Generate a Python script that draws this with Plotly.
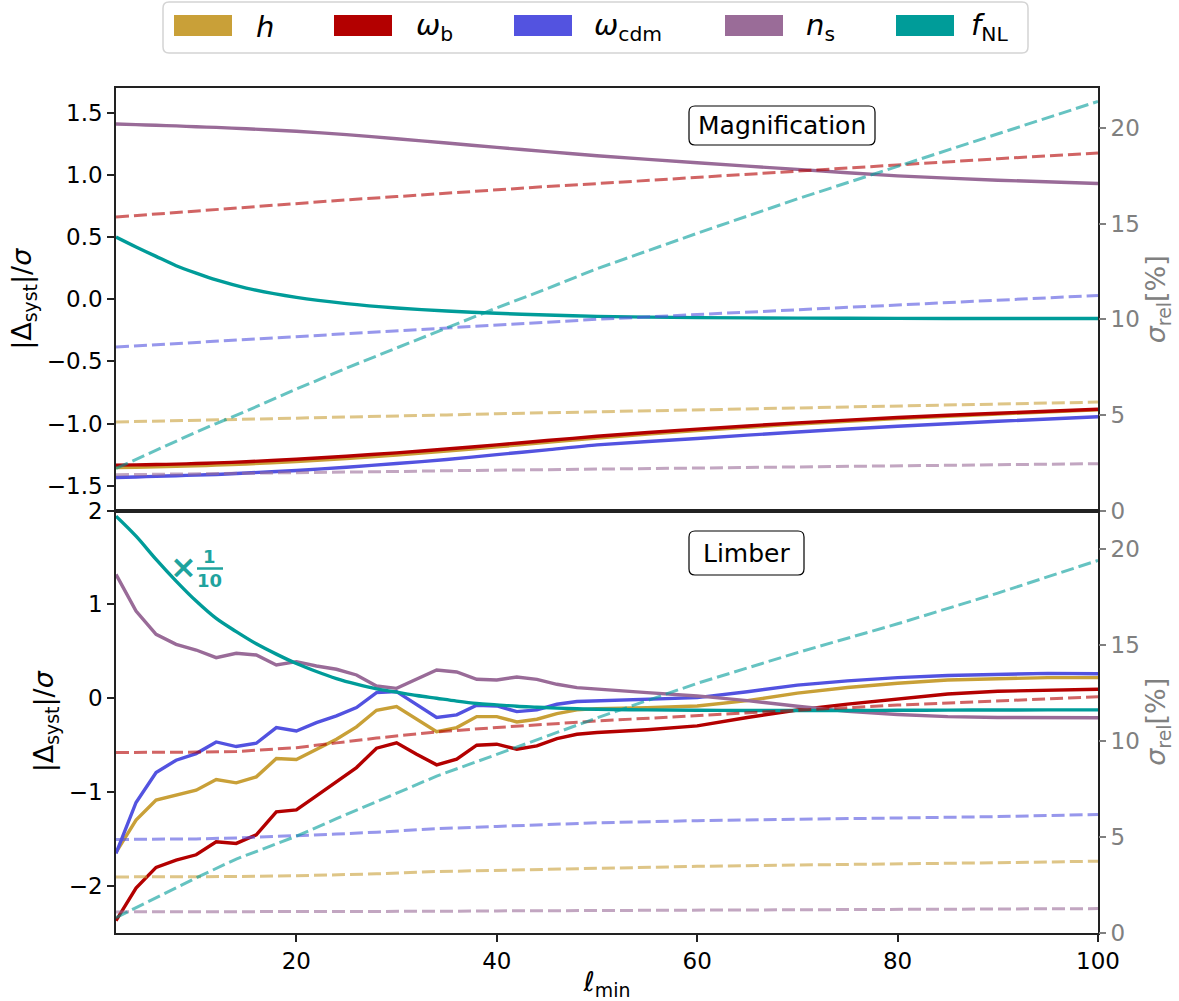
import plotly.graph_objects as go
from plotly.subplots import make_subplots

# ---------------- data ----------------
params = ["h", "omega_b", "omega_cdm", "n_s", "f_NL"]
legend_labels = ["<i>h</i>", "<i>ω</i><sub>b</sub>", "<i>ω</i><sub>cdm</sub>",
                 "<i>n</i><sub>s</sub>", "<i>f</i><sub>NL</sub>"]
colors = ["#C9A038", "#B30000", "#5353E0", "#9A6C98", "#009C99"]

# Top panel (Magnification)
ell_top = [2, 4, 6, 8, 10, 12, 15, 20, 25, 30, 35, 40, 45, 50, 60, 70, 80, 90, 100]
mag_syst_h = [-1.355, -1.352, -1.349, -1.345, -1.340, -1.335, -1.326, -1.306, -1.281, -1.253,
              -1.222, -1.188, -1.152, -1.117, -1.057, -1.005, -0.960, -0.923, -0.890]
mag_syst_wb = [-1.335, -1.333, -1.330, -1.327, -1.322, -1.317, -1.308, -1.288, -1.263, -1.236,
               -1.205, -1.172, -1.137, -1.103, -1.045, -0.995, -0.952, -0.917, -0.885]
mag_syst_wcdm = [-1.435, -1.430, -1.425, -1.420, -1.415, -1.410, -1.398, -1.378, -1.352, -1.322,
                 -1.290, -1.250, -1.212, -1.172, -1.120, -1.068, -1.022, -0.982, -0.945]
mag_syst_ns = [1.410, 1.405, 1.400, 1.395, 1.388, 1.383, 1.372, 1.352, 1.325, 1.292,
               1.257, 1.222, 1.188, 1.155, 1.098, 1.045, 0.993, 0.958, 0.932]
mag_syst_fnl = [0.500, 0.420, 0.345, 0.270, 0.210, 0.155, 0.090, 0.015, -0.035, -0.070,
                -0.095, -0.113, -0.127, -0.138, -0.148, -0.152, -0.154, -0.155, -0.155]

mag_rel_h = [4.63, 4.65, 4.68, 4.70, 4.72, 4.74, 4.78, 4.83, 4.89, 4.95,
             5.00, 5.06, 5.11, 5.17, 5.27, 5.37, 5.47, 5.57, 5.67]
mag_rel_wb = [15.35, 15.43, 15.51, 15.60, 15.68, 15.75, 15.87, 16.05, 16.25, 16.42,
              16.60, 16.77, 16.95, 17.10, 17.43, 17.75, 18.08, 18.40, 18.70]
mag_rel_wcdm = [8.55, 8.61, 8.67, 8.73, 8.79, 8.85, 8.94, 9.09, 9.24, 9.39,
                9.54, 9.69, 9.84, 10.00, 10.25, 10.50, 10.75, 11.00, 11.25]
mag_rel_ns = [1.87, 1.88, 1.90, 1.91, 1.92, 1.93, 1.95, 1.98, 2.01, 2.04,
              2.08, 2.11, 2.14, 2.17, 2.23, 2.28, 2.34, 2.39, 2.45]
mag_rel_fnl = [2.20, 2.68, 3.15, 3.62, 4.10, 4.55, 5.20, 6.35, 7.45, 8.50,
               9.55, 10.60, 11.60, 12.65, 14.50, 16.30, 18.00, 19.70, 21.40]

# Bottom panel (Limber)
ell_bot = [2, 4, 6, 8, 10, 12, 14, 16, 18, 20, 22, 24, 26, 28, 30, 32, 34, 36, 38, 40,
           42, 44, 46, 48, 50, 55, 60, 65, 70, 75, 80, 85, 90, 95, 100]
lim_syst_h = [-1.642, -1.298, -1.085, -1.028, -0.979, -0.865, -0.901, -0.837, -0.642, -0.652,
              -0.543, -0.436, -0.305, -0.128, -0.089, -0.223, -0.355, -0.312, -0.195, -0.195,
              -0.252, -0.223, -0.163, -0.124, -0.110, -0.100, -0.082, -0.025, 0.055, 0.115,
              0.160, 0.195, 0.212, 0.220, 0.220]
lim_syst_wb = [-2.369, -2.021, -1.801, -1.723, -1.667, -1.528, -1.546, -1.454, -1.209, -1.188,
               -1.039, -0.890, -0.738, -0.532, -0.475, -0.596, -0.709, -0.649, -0.500, -0.489,
               -0.543, -0.507, -0.429, -0.383, -0.365, -0.335, -0.294, -0.205, -0.125, -0.062,
               -0.010, 0.045, 0.075, 0.090, 0.096]
lim_syst_wcdm = [-1.652, -1.110, -0.790, -0.660, -0.589, -0.465, -0.514, -0.479, -0.312, -0.348,
                 -0.259, -0.188, -0.099, 0.060, 0.071, -0.064, -0.205, -0.177, -0.074, -0.082,
                 -0.142, -0.124, -0.064, -0.035, -0.028, -0.018, 0.007, 0.070, 0.140, 0.185,
                 0.220, 0.243, 0.258, 0.265, 0.262]
lim_syst_ns = [1.319, 0.929, 0.681, 0.574, 0.514, 0.433, 0.479, 0.461, 0.355, 0.390,
               0.344, 0.309, 0.248, 0.131, 0.106, 0.202, 0.301, 0.280, 0.202, 0.195,
               0.227, 0.202, 0.149, 0.113, 0.096, 0.060, 0.025, -0.025, -0.085, -0.140,
               -0.172, -0.195, -0.205, -0.210, -0.207]
lim_syst_fnl = [1.940, 1.727, 1.479, 1.248, 1.035, 0.850, 0.710, 0.580, 0.470, 0.370,
                0.285, 0.210, 0.150, 0.100, 0.065, 0.030, 0.000, -0.030, -0.055, -0.070,
                -0.085, -0.095, -0.105, -0.112, -0.117, -0.124, -0.128, -0.130, -0.130, -0.130,
                -0.128, -0.126, -0.125, -0.124, -0.124]

ell_bot_rel = [2, 6, 10, 14, 20, 24, 28, 34, 40, 50, 60, 70, 80, 90, 100]
lim_rel_h = [2.92, 2.92, 2.93, 2.94, 2.98, 3.03, 3.08, 3.20, 3.27, 3.39, 3.47, 3.54, 3.59, 3.66, 3.74]
lim_rel_wb = [9.40, 9.40, 9.42, 9.45, 9.65, 9.90, 10.15, 10.47, 10.70, 11.04, 11.33, 11.60, 11.87, 12.10, 12.30]
lim_rel_wcdm = [4.87, 4.88, 4.90, 4.95, 5.05, 5.15, 5.25, 5.43, 5.55, 5.74, 5.85, 5.92, 5.98, 6.06, 6.17]
lim_rel_ns = [1.10, 1.10, 1.10, 1.11, 1.11, 1.12, 1.12, 1.13, 1.15, 1.17, 1.19, 1.21, 1.23, 1.25, 1.27]
lim_rel_fnl = [0.80, 1.83, 2.87, 3.85, 5.04, 5.95, 6.85, 8.17, 9.30, 11.20, 13.00, 14.60, 16.10, 17.70, 19.40]

top_syst = [mag_syst_h, mag_syst_wb, mag_syst_wcdm, mag_syst_ns, mag_syst_fnl]
top_rel = [mag_rel_h, mag_rel_wb, mag_rel_wcdm, mag_rel_ns, mag_rel_fnl]
bot_syst = [lim_syst_h, lim_syst_wb, lim_syst_wcdm, lim_syst_ns, lim_syst_fnl]
bot_rel = [lim_rel_h, lim_rel_wb, lim_rel_wcdm, lim_rel_ns, lim_rel_fnl]

left_ticks_top = [-1.5, -1.0, -0.5, 0.0, 0.5, 1.0, 1.5]
left_ticks_bot = [-2, -1, 0, 1, 2]
right_ticks = [0, 5, 10, 15, 20]
x_ticks = [20, 40, 60, 80, 100]

# ---------------- figure ----------------
FONT = "DejaVu Sans"
W, H = 1179, 1001
ML, MR, MT, MB = 116, 81, 88, 68
TICK_SIZE = 23
TITLE_SIZE = 27

fig = make_subplots(rows=2, cols=1, shared_xaxes=True, vertical_spacing=0,
                    specs=[[{"secondary_y": True}], [{"secondary_y": True}]])

for i in range(5):
    fig.add_trace(go.Scatter(x=ell_top, y=top_syst[i], mode="lines",
                             line=dict(color=colors[i], width=3.4, shape="spline", smoothing=0.6),
                             showlegend=False, hoverinfo="skip"),
                  row=1, col=1, secondary_y=False)
for i in range(5):
    fig.add_trace(go.Scatter(x=ell_top, y=top_rel[i], mode="lines", opacity=0.6,
                             line=dict(color=colors[i], width=3, dash="13px,5px"),
                             showlegend=False, hoverinfo="skip"),
                  row=1, col=1, secondary_y=True)
for i in range(5):
    shape = "spline" if params[i] == "f_NL" else "linear"
    fig.add_trace(go.Scatter(x=ell_bot, y=bot_syst[i], mode="lines",
                             line=dict(color=colors[i], width=3.4, shape=shape),
                             showlegend=False, hoverinfo="skip"),
                  row=2, col=1, secondary_y=False)
for i in range(5):
    fig.add_trace(go.Scatter(x=ell_bot_rel, y=bot_rel[i], mode="lines", opacity=0.6,
                             line=dict(color=colors[i], width=3, dash="13px,5px"),
                             showlegend=False, hoverinfo="skip"),
                  row=2, col=1, secondary_y=True)

axis_line = dict(showline=True, linecolor="#222", linewidth=1.6, mirror=True,
                 showgrid=False, zeroline=False, automargin=False)
tickfont = dict(family=FONT, size=TICK_SIZE, color="black")
grey = "#808080"

fig.update_layout(
    width=W, height=H, plot_bgcolor="white", paper_bgcolor="white",
    margin=dict(l=ML, r=MR, t=MT, b=MB, autoexpand=False),
    font=dict(family=FONT, size=TICK_SIZE, color="black"),
    xaxis=dict(range=[2, 100], domain=[0, 1], showticklabels=False, ticks="", **axis_line),
    xaxis2=dict(range=[2, 100], domain=[0, 1], tickvals=x_ticks, ticks="outside", ticklen=7,
                tickwidth=1.5, tickcolor="#222", tickfont=tickfont,
                title=dict(text="<i>ℓ</i><sub>min</sub>", font=dict(family=FONT, size=TITLE_SIZE), standoff=3),
                **axis_line),
    yaxis=dict(domain=[0.5, 1], range=[-1.7, 1.7], tickvals=left_ticks_top, tickformat=".1f",
               ticks="outside", ticklen=7, tickwidth=1.5, tickcolor="#222", tickfont=tickfont,
               title=dict(text="|Δ<sub>syst</sub>|/<i>σ</i>", font=dict(family=FONT, size=TITLE_SIZE), standoff=7),
               **axis_line),
    yaxis2=dict(range=[0, 22.1], tickvals=right_ticks, ticks="outside", ticklen=7, tickwidth=1.5,
                tickcolor=grey, tickfont=dict(family=FONT, size=TICK_SIZE, color=grey),
                title=dict(text="<i>σ</i><sub>rel</sub>[%]", font=dict(family=FONT, size=TITLE_SIZE, color=grey), standoff=6),
                showgrid=False, zeroline=False, showline=False, automargin=False),
    yaxis3=dict(domain=[0, 0.5], range=[-2.5, 2.0], tickvals=left_ticks_bot, tickformat="d",
                ticks="outside", ticklen=7, tickwidth=1.5, tickcolor="#222", tickfont=tickfont,
                title=dict(text="|Δ<sub>syst</sub>|/<i>σ</i>", font=dict(family=FONT, size=TITLE_SIZE), standoff=7),
                **axis_line),
    yaxis4=dict(range=[0, 22.0], tickvals=right_ticks, ticks="outside", ticklen=7, tickwidth=1.5,
                tickcolor=grey, tickfont=dict(family=FONT, size=TICK_SIZE, color=grey),
                title=dict(text="<i>σ</i><sub>rel</sub>[%]", font=dict(family=FONT, size=TITLE_SIZE, color=grey), standoff=6),
                showgrid=False, zeroline=False, showline=False, automargin=False),
)

# ---------- decorations (paper coordinates) ----------
PW = W - ML - MR
PH = H - MT - MB


def px(x):
    return (x - ML) / PW


def py(y):
    return (H - MB - y) / PH


def rrect(x0, y0, x1, y1, r=6):
    a, b, c, d = px(x0), py(y1), px(x1), py(y0)
    rx, ry = r / PW, r / PH
    return (f"M {a+rx},{b} L {c-rx},{b} Q {c},{b} {c},{b+ry} L {c},{d-ry} Q {c},{d} {c-rx},{d} "
            f"L {a+rx},{d} Q {a},{d} {a},{d-ry} L {a},{b+ry} Q {a},{b} {a+rx},{b} Z")


shapes = []
annotations = []

# legend frame
shapes.append(dict(type="path", xref="paper", yref="paper", path=rrect(163, 2, 1028, 53, 6),
                   line=dict(color="#d4d4d4", width=1.5), fillcolor="white"))
patch_x = [174, 334, 514, 725, 896]
label_x = [254, 414, 592, 804, 969]
for i in range(5):
    shapes.append(dict(type="rect", xref="paper", yref="paper",
                       x0=px(patch_x[i]), x1=px(patch_x[i] + 58), y0=py(36), y1=py(15),
                       line=dict(width=0), fillcolor=colors[i]))
    annotations.append(dict(xref="paper", yref="paper", x=px(label_x[i]), y=py(27),
                            xanchor="left", yanchor="middle", showarrow=False,
                            text=legend_labels[i], font=dict(family=FONT, size=29, color="black")))

# panel labels
shapes.append(dict(type="path", xref="paper", yref="paper", path=rrect(689, 106, 875, 145, 6),
                   line=dict(color="black", width=1.2), fillcolor="white", layer="above"))
annotations.append(dict(xref="paper", yref="paper", x=px(782), y=py(125.5), showarrow=False,
                        xanchor="center", yanchor="middle", text="Magnification",
                        font=dict(family=FONT, size=25, color="black")))
shapes.append(dict(type="path", xref="paper", yref="paper", path=rrect(689, 531, 804, 575, 6),
                   line=dict(color="black", width=1.2), fillcolor="white", layer="above"))
annotations.append(dict(xref="paper", yref="paper", x=px(746.5), y=py(553), showarrow=False,
                        xanchor="center", yanchor="middle", text="Limber",
                        font=dict(family=FONT, size=25, color="black")))

# x 1/10 label
teal_lbl = "#1FA39E"
annotations.append(dict(xref="paper", yref="paper", x=px(183.5), y=py(567), showarrow=False,
                        xanchor="center", yanchor="middle", text="<b>×</b>",
                        font=dict(family=FONT, size=32, color=teal_lbl)))
annotations.append(dict(xref="paper", yref="paper", x=px(209.5), y=py(556.5), showarrow=False,
                        xanchor="center", yanchor="middle", text="<b>1</b>",
                        font=dict(family=FONT, size=18, color=teal_lbl)))
annotations.append(dict(xref="paper", yref="paper", x=px(209.5), y=py(580.5), showarrow=False,
                        xanchor="center", yanchor="middle", text="<b>10</b>",
                        font=dict(family=FONT, size=18, color=teal_lbl)))
shapes.append(dict(type="line", xref="paper", yref="paper", x0=px(197), x1=px(223),
                   y0=py(568.5), y1=py(568.5), line=dict(color=teal_lbl, width=2.5)))

fig.update_layout(shapes=shapes, annotations=annotations)

fig.write_html("out.html", config={"displayModeBar": False},
               post_script="document.body.style.margin='0';document.body.style.padding='0';")
